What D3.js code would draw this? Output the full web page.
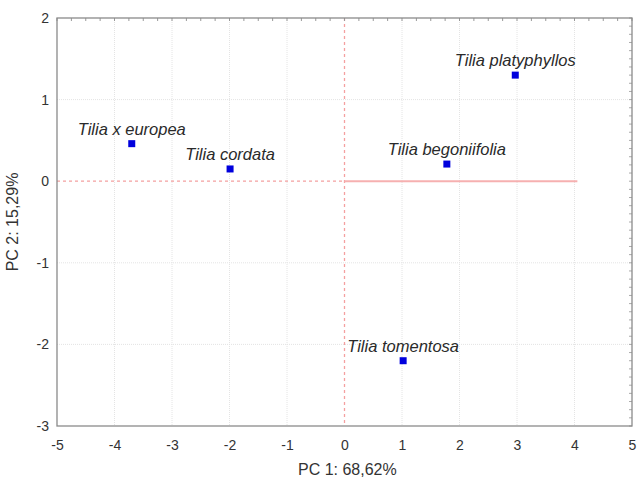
<!DOCTYPE html>
<html><head><meta charset="utf-8">
<script src="https://cdn.jsdelivr.net/npm/d3@7"></script>
<style>body{margin:0;background:#fff}svg{display:block}</style>
</head><body>
<svg id="c" width="639" height="482"></svg>
<script>
const species = ["Tilia x europea","Tilia cordata","Tilia platyphyllos","Tilia begoniifolia","Tilia tomentosa"];
const pc1 = [-3.70,-1.99,2.97,1.78,1.02];
const pc2 = [0.46,0.15,1.30,0.21,-2.20];
const xTicks = [-5,-4,-3,-2,-1,0,1,2,3,4,5];
const yTicks = [-3,-2,-1,0,1,2];
const xTitle = "PC 1: 68,62%";
const yTitle = "PC 2: 15,29%";

const svg = d3.select("#c");
const L=57, R=632, T=18, B=426;
const x = d3.scaleLinear().domain([-5,5]).range([L,R]);
const y = d3.scaleLinear().domain([-3,2]).range([B,T]);
const font = "Arial, 'Liberation Sans', sans-serif";
const txt = "#333";

// grid
const g = svg.append("g");
g.selectAll(".vg").data(xTicks.filter(d=>d>-5&&d<5&&d!==0)).enter().append("line")
 .attr("x1",d=>x(d)).attr("x2",d=>x(d)).attr("y1",T).attr("y2",B)
 .attr("stroke","#e4e4e4").attr("stroke-width",1).attr("stroke-dasharray","1,1");
g.selectAll(".hg").data(yTicks.filter(d=>d>-3&&d<2&&d!==0)).enter().append("line")
 .attr("y1",d=>y(d)).attr("y2",d=>y(d)).attr("x1",L).attr("x2",R)
 .attr("stroke","#e4e4e4").attr("stroke-width",1).attr("stroke-dasharray","1,1");

// reference lines
svg.append("line").attr("x1",x(0)).attr("x2",x(0)).attr("y1",T).attr("y2",B)
 .attr("stroke","#f4a0a0").attr("stroke-width",1.3).attr("stroke-dasharray","3,3");
svg.append("line").attr("x1",L).attr("x2",x(0)).attr("y1",y(0)).attr("y2",y(0))
 .attr("stroke","#f4a0a0").attr("stroke-width",1.3).attr("stroke-dasharray","3,3");
svg.append("line").attr("x1",x(0)).attr("x2",x(4.05)).attr("y1",y(0)).attr("y2",y(0))
 .attr("stroke","#f6b0b0").attr("stroke-width",2);

// minor ticks on top/right
const topMinor = d3.range(-5,5.001,0.25);
svg.append("g").selectAll("line").data(topMinor).enter().append("line")
 .attr("x1",d=>x(d)).attr("x2",d=>x(d)).attr("y1",T).attr("y2",T+3)
 .attr("stroke","#999").attr("stroke-width",1);
const rightMinor = d3.range(-3,2.001,0.1);
svg.append("g").selectAll("line").data(rightMinor).enter().append("line")
 .attr("y1",d=>y(d)).attr("y2",d=>y(d)).attr("x1",R-3).attr("x2",R)
 .attr("stroke","#aaa").attr("stroke-width",1);

// frame
svg.append("rect").attr("x",L).attr("y",T).attr("width",R-L).attr("height",B-T)
 .attr("fill","none").attr("stroke","#8a8a8a").attr("stroke-width",1.3);

// axes
const fmt = d => String(d);
const xa = svg.append("g").attr("transform",`translate(0,${B})`)
 .call(d3.axisBottom(x).tickValues(xTicks).tickSize(0).tickPadding(14).tickFormat(fmt));
const ya = svg.append("g").attr("transform",`translate(${L},0)`)
 .call(d3.axisLeft(y).tickValues(yTicks).tickSize(0).tickPadding(8).tickFormat(fmt));
[xa,ya].forEach(a=>{a.select(".domain").remove();
 a.selectAll("text").attr("font-family",font).attr("font-size",14).attr("fill",txt);});

// axis titles
svg.append("text").attr("x",x(0.05)).attr("y",475).attr("text-anchor","middle")
 .attr("font-family",font).attr("font-size",16).attr("fill",txt).text(xTitle);
svg.append("text").attr("transform",`translate(18,${y(-0.5)}) rotate(-90)`).attr("text-anchor","middle")
 .attr("font-family",font).attr("font-size",16).attr("fill",txt).text(yTitle);

// points
const data = species.map((s,i)=>({s,a:pc1[i],b:pc2[i]}));
svg.append("g").selectAll("rect").data(data).enter().append("rect")
 .attr("x",d=>x(d.a)-3.5).attr("y",d=>y(d.b)-3.5).attr("width",7).attr("height",7)
 .attr("fill","#0000dd");
svg.append("g").selectAll("text").data(data).enter().append("text")
 .attr("x",d=>x(d.a)).attr("y",d=>y(d.b)-9).attr("text-anchor","middle")
 .attr("font-family",font).attr("font-size",16.5).attr("font-style","italic").attr("fill","#2a2a2a")
 .text(d=>d.s);
</script>
</body></html>
